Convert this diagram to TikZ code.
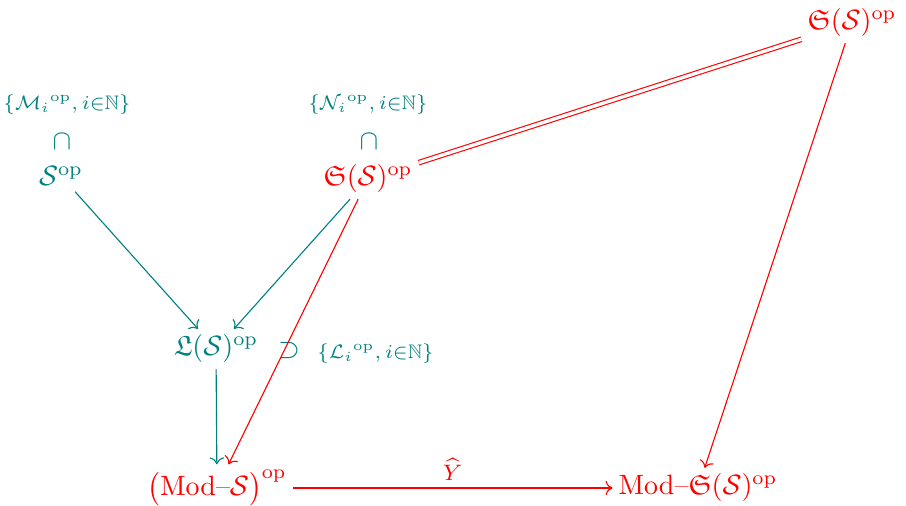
\documentclass[tikz,border=0pt]{standalone}
\usepackage{amsmath,amssymb}
\usetikzlibrary{cd}
\begin{document}
\begin{tikzpicture}[x=0.3576pt,y=-0.3576pt,
  tl/.style={text=teal,inner sep=2pt},
  rd/.style={text=red,inner sep=2pt},
  lab/.style={text=teal,font=\scriptsize,inner sep=1pt},
  tarr/.style={draw=teal,-{cm to},line width=0.4pt},
  rarr/.style={draw=red,-{cm to},line width=0.4pt}]
\useasboundingbox (0,0) rectangle (906,506);
% nodes
\node[tl] (S) at (61,176) {$\mathcal{S}^{\mathrm{op}}$};
\node[rd] (G) at (368,179) {$\mathfrak{S}(\mathcal{S})^{\mathrm{op}}$};
\node[rd] (T) at (852,23) {$\mathfrak{S}(\mathcal{S})^{\mathrm{op}}$};
\node[tl] (L) at (216,349) {$\mathfrak{L}(\mathcal{S})^{\mathrm{op}}$};
\node[rd] (M) at (217,488) {$\bigl(\mathrm{Mod}\text{--}\mathcal{S}\bigr)^{\mathrm{op}}$};
\node[rd] (N) at (698,488) {$\mathrm{Mod}\text{--}\mathfrak{S}(\mathcal{S})^{\mathrm{op}}$};
% labels
\node[lab] (Ml) at (67,105) {$\{\mathcal{M}_i{}^{\mathrm{op}}, i{\in}\mathbb{N}\}$};
\node[tl,inner sep=0pt] (Mc) at (62,142) {$\cap$};
\node[lab] (Nl) at (368,105) {$\{\mathcal{N}_i{}^{\mathrm{op}}, i{\in}\mathbb{N}\}$};
\node[tl,inner sep=0pt] (Nc) at (369,142) {$\cap$};
\node[tl,inner sep=0pt] (Lc) at (289,351) {$\supset$};
\node[lab,anchor=west] (Ll) at (314,354) {$\{\mathcal{L}_i{}^{\mathrm{op}}, i{\in}\mathbb{N}\}$};
% arrows
\draw[tarr] (S) -- (L);
\draw[tarr] (G) -- (L);
\draw[tarr] (L) -- (M);
\draw[rarr] (G) -- (M);
\draw[red,double,double distance=1.2pt,line width=0.4pt] (G) -- (T);
\draw[rarr] (T) -- (N);
\draw[rarr] (M) -- node[above=1.5pt,text=red,font=\footnotesize,inner sep=1pt] (Y) {$\widehat{Y}$} (N);
\end{tikzpicture}
\end{document}
